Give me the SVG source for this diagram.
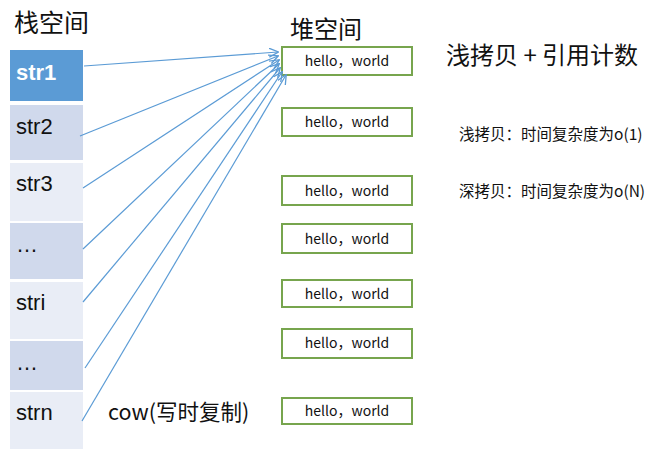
<svg xmlns="http://www.w3.org/2000/svg" width="658" height="461" viewBox="0 0 658 461">
<defs>
<marker id="ah" viewBox="0 0 10 10" refX="9" refY="5" markerWidth="10" markerHeight="10" markerUnits="userSpaceOnUse" orient="auto">
<path d="M0,0.5 L9.5,5 L0,9.5" fill="none" stroke="#5b9bd5" stroke-width="1.3"/>
</marker>
</defs>
<style>
text{font-family:"Noto Sans CJK SC","Liberation Sans",sans-serif;fill:#111}
.cell{stroke:none}
.a{fill:#d0d9ec}
.b{fill:#e9edf6}
.lbl{font-family:"Liberation Sans","Noto Sans CJK SC",sans-serif;font-size:22px}
.heap{fill:#fff;stroke:#77a54e;stroke-width:2}
.ht{font-size:14px;text-anchor:middle}
.conn{stroke:#5b9bd5;stroke-width:1.2;fill:none;marker-end:url(#ah)}
</style>
<rect width="658" height="461" fill="#fff"/>
<text x="14" y="32" font-size="25">栈空间</text>
<text x="290" y="38" font-size="24">堆空间</text>
<text x="446" y="64" font-size="24">浅拷贝 + 引用计数</text>
<text x="459" y="140" font-size="15.5">浅拷贝：时间复杂度为o(1)</text>
<text x="459" y="197" font-size="15.5">深拷贝：时间复杂度为o(N)</text>
<text x="108" y="420" font-size="21.5">cow(写时复制)</text>

<g id="str1"><rect class="cell" x="10" y="50" width="73" height="51" fill="#5b9bd5"/><text class="lbl" x="16" y="80" style="fill:#fff;font-weight:bold">str1</text></g>
<g id="str2"><rect class="cell a" x="10" y="105" width="73" height="55"/><text class="lbl" x="16" y="134">str2</text></g>
<g id="str3"><rect class="cell b" x="10" y="163" width="73" height="58"/><text class="lbl" x="16" y="191">str3</text></g>
<g id="dots1"><rect class="cell a" x="10" y="223" width="73" height="56"/><text class="lbl" x="16" y="252">…</text></g>
<g id="stri"><rect class="cell b" x="10" y="282" width="73" height="57"/><text class="lbl" x="16" y="310">stri</text></g>
<g id="dots2"><rect class="cell a" x="10" y="341" width="73" height="49"/><text class="lbl" x="16" y="370">…</text></g>
<g id="strn"><rect class="cell b" x="10" y="392" width="73" height="57"/><text class="lbl" x="16" y="420">strn</text></g>

<g id="heap1"><rect class="heap" x="282" y="47" width="130" height="28"/><text class="ht" x="347" y="66">hello，world</text></g>
<g id="heap2"><rect class="heap" x="282" y="108" width="130" height="28"/><text class="ht" x="347" y="127">hello，world</text></g>
<g id="heap3"><rect class="heap" x="282" y="176" width="130" height="29"/><text class="ht" x="347" y="196">hello，world</text></g>
<g id="heap4"><rect class="heap" x="282" y="224" width="130" height="29"/><text class="ht" x="347" y="244">hello，world</text></g>
<g id="heap5"><rect class="heap" x="282" y="280" width="130" height="27"/><text class="ht" x="347" y="299">hello，world</text></g>
<g id="heap6"><rect class="heap" x="282" y="329" width="130" height="29"/><text class="ht" x="347" y="348">hello，world</text></g>
<g id="heap7"><rect class="heap" x="282" y="398" width="130" height="26"/><text class="ht" x="347" y="416">hello，world</text></g>

<g id="connectors">
<line class="conn" x1="84" y1="66" x2="278" y2="52"/>
<line class="conn" x1="80" y1="136" x2="278" y2="56"/>
<line class="conn" x1="83" y1="188" x2="279" y2="60"/>
<line class="conn" x1="83" y1="249" x2="279" y2="64"/>
<line class="conn" x1="83" y1="302" x2="280" y2="68"/>
<line class="conn" x1="85" y1="368" x2="282" y2="72"/>
<line class="conn" x1="82" y1="421" x2="286" y2="75"/>
</g>
</svg>
